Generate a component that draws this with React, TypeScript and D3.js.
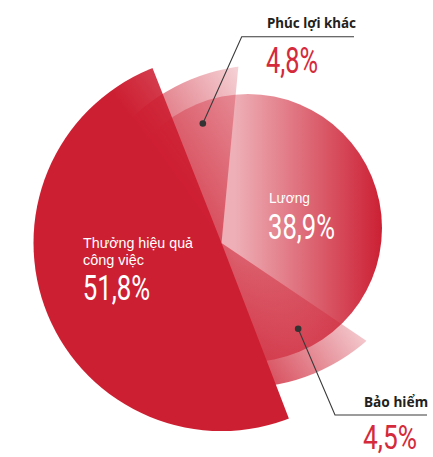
import React, { useEffect, useRef } from 'react';
import * as d3 from 'd3';

// data
const categories = ['Thưởng hiệu quả công việc', 'Phúc lợi khác', 'Lương', 'Bảo hiểm'];
const shares = [51.8, 4.8, 38.9, 4.5];
const shareLabels = ['51,8%', '4,8%', '38,9%', '4,5%'];

const WIDTH = 433;
const HEIGHT = 457;
const CX = 221.5;
const CY = 243;
const RAD = Math.PI / 180;
const PIE_START = 156; // deg, clockwise from 12 o'clock
const CRIMSON = '#CD1F32';
const INK = '#231F20';

// each slice = wedge from the pie (with some bleed under its neighbours) cut out of a disk
const sliceLayout = [
  { bleed: [3, -4], dx: 0, dy: 0, r: 188, z: 3 },
  { bleed: [-37.5, 5.7], dx: 41.5, dy: 11, r: 189, z: 1 },
  { bleed: [-90, 80], dx: 26.5, dy: -15, r: 134, z: 0 },
  { bleed: [-15.8, 39], dx: 19.5, dy: -46, r: 191, z: 2 },
];

const polar = (deg: number, r: number): [number, number] => [
  CX + r * Math.sin(deg * RAD),
  CY - r * Math.cos(deg * RAD),
];

export default function App() {
  const ref = useRef<SVGSVGElement>(null);

  useEffect(() => {
    if (!ref.current) return;
    const svg = d3.select(ref.current);
    svg.selectAll('*').remove();
    const defs = svg.append('defs');

    const pie = d3.pie<number>()
      .sort(null)
      .value(d => d)
      .startAngle(PIE_START * RAD)
      .endAngle(PIE_START * RAD + 2 * Math.PI);
    const arcs = pie(shares);
    const wedge = d3.arc<any>().innerRadius(0).outerRadius(420);

    const slices = arcs.map((a, i) => {
      const l = sliceLayout[i];
      return {
        i,
        a0: a.startAngle + l.bleed[0] * RAD,
        a1: a.endAngle + l.bleed[1] * RAD,
        mid: (a.startAngle + a.endAngle) / 2,
        ...l,
      };
    });

    slices.forEach(s => {
      defs.append('clipPath')
        .attr('id', `wedge-${s.i}`)
        .append('path')
        .attr('transform', `translate(${CX},${CY})`)
        .attr('d', wedge({ startAngle: s.a0, endAngle: s.a1 }));
    });

    const linear = (id: string, p0: [number, number], p1: [number, number], stops: [number, string, number][]) => {
      const g = defs.append('linearGradient')
        .attr('id', id)
        .attr('gradientUnits', 'userSpaceOnUse')
        .attr('x1', p0[0]).attr('y1', p0[1])
        .attr('x2', p1[0]).attr('y2', p1[1]);
      stops.forEach(([o, c, op]) => {
        g.append('stop').attr('offset', o).attr('stop-color', c).attr('stop-opacity', op);
      });
    };

    const deg = (r: number) => r / RAD;
    const thuong = slices[0];
    const luong = slices[2];

    // Lương: horizontal light-to-crimson
    linear('g-2', [CX + luong.dx - 13, 0], [CX + luong.dx + luong.r, 0], [
      [0, '#EEAFB6', 1],
      [1, '#CC2034', 1],
    ]);
    // Phúc lợi: translucent, fading toward its outer corner
    linear('g-1', polar(320, 140), polar(deg(slices[1].a1), 176), [
      [0, CRIMSON, 0.74],
      [1, CRIMSON, 0.2],
    ]);
    // Bảo hiểm
    linear('g-3', polar(160, 170), polar(deg(slices[3].a0), 178), [
      [0, CRIMSON, 0.8],
      [1, CRIMSON, 0.24],
    ]);

    // Thưởng: opaque core, translucent near both straight edges
    const fade = 28;
    const t0 = deg(thuong.a0);
    const t1 = deg(thuong.a1);
    linear('fade-end', polar(t1 - fade, 165), polar(t1, 165), [
      [0, '#ffffff', 1],
      [1, '#c4c4c4', 1],
    ]);
    linear('fade-start', polar(t0 + fade, 165), polar(t0, 165), [
      [0, '#ffffff', 1],
      [1, '#c4c4c4', 1],
    ]);
    const mask = defs.append('mask')
      .attr('id', 'fade')
      .attr('maskUnits', 'userSpaceOnUse')
      .attr('x', 0).attr('y', 0)
      .attr('width', WIDTH).attr('height', HEIGHT);
    mask.append('rect').attr('width', WIDTH).attr('height', HEIGHT).attr('fill', '#fff');
    mask.append('path')
      .attr('transform', `translate(${CX},${CY})`)
      .attr('d', wedge({ startAngle: (t1 - fade) * RAD, endAngle: (t1 + 2) * RAD }))
      .attr('fill', 'url(#fade-end)');
    mask.append('path')
      .attr('transform', `translate(${CX},${CY})`)
      .attr('d', wedge({ startAngle: (t0 - 2) * RAD, endAngle: (t0 + fade) * RAD }))
      .attr('fill', 'url(#fade-start)');

    const fills = [CRIMSON, 'url(#g-1)', 'url(#g-2)', 'url(#g-3)'];

    const pieG = svg.append('g');
    [...slices].sort((a, b) => a.z - b.z).forEach(s => {
      const g = pieG.append('g').attr('clip-path', `url(#wedge-${s.i})`);
      if (s.i === 0) g.attr('mask', 'url(#fade)');
      g.append('circle')
        .attr('cx', CX + s.dx)
        .attr('cy', CY + s.dy)
        .attr('r', s.r)
        .attr('fill', fills[s.i]);
    });

    // leaders for the two small slices
    const leaders = [
      { i: 1, shift: 0, r: 121, elbow: [241.7, 36.7], end: 354 },
      { i: 3, shift: -9.7, r: 115, elbow: [335, 415], end: 427 },
    ];
    leaders.forEach(l => {
      const dot = polar(deg(slices[l.i].mid) + l.shift, l.r);
      svg.append('path')
        .attr('d', d3.line()([dot, l.elbow as [number, number], [l.end, l.elbow[1]]]))
        .attr('fill', 'none')
        .attr('stroke', '#3a3a3a')
        .attr('stroke-width', 1.1);
      svg.append('circle')
        .attr('cx', dot[0]).attr('cy', dot[1])
        .attr('r', 3.3)
        .attr('fill', '#333');
    });

    // text
    const txt = (x: number, y: number, s: string, opts: any) => {
      const t = svg.append('text')
        .attr('x', x).attr('y', y)
        .attr('font-family', opts.family)
        .attr('font-size', opts.size)
        .attr('font-weight', opts.weight || 400)
        .attr('fill', opts.fill)
        .text(s);
      if (opts.len) t.attr('textLength', opts.len).attr('lengthAdjust', 'spacingAndGlyphs');
      return t;
    };
    const sans = '"Noto Sans", "Open Sans", sans-serif';
    const light = '"Liberation Sans", Arial, sans-serif';
    const num = 'Roboto, "DejaVu Sans Condensed", sans-serif';

    txt(267, 28, categories[1], { family: sans, size: 14.5, weight: 700, fill: INK, len: 89 });
    txt(266, 73.3, shareLabels[1], { family: num, size: 37.5, fill: '#D42A3B', len: 52 });

    txt(269, 203, categories[2], { family: light, size: 14.5, fill: '#fff', len: 41 });
    txt(268, 239.3, shareLabels[2], { family: num, size: 34.5, fill: '#fff', len: 67 });

    const [line1, line2] = ['Thưởng hiệu quả', 'công việc'];
    txt(83, 248.3, line1, { family: light, size: 14.5, fill: '#fff', len: 110 });
    txt(83, 265, line2, { family: light, size: 14.5, fill: '#fff', len: 61 });
    txt(82.7, 300, shareLabels[0], { family: num, size: 35, fill: '#fff', len: 67.5 });

    txt(364, 406.7, categories[3], { family: sans, size: 14.5, weight: 700, fill: INK, len: 64 });
    txt(363, 448.5, shareLabels[3], { family: num, size: 34, fill: '#D42A3B', len: 54 });
  }, []);

  return (
    <svg
      ref={ref}
      width={WIDTH}
      height={HEIGHT}
      style={{ position: 'absolute', left: 0, top: 0, background: '#fff' }}
    />
  );
}
